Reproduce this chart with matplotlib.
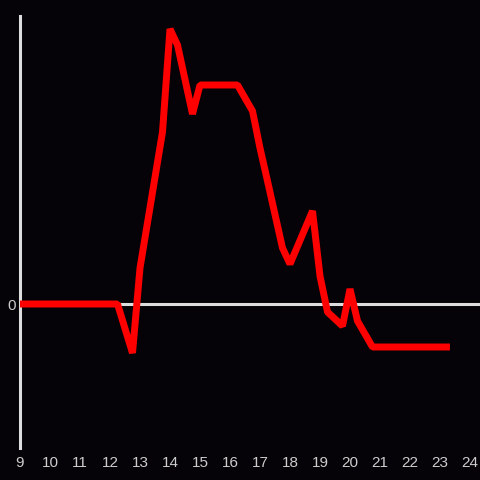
import matplotlib
matplotlib.use("Agg")
import matplotlib.pyplot as plt

# ─── Data ─────────────────────────────────────────────────────────────────────
hours = [9.0, 12.25, 12.75, 13.0, 13.75, 14.0, 14.25, 14.75, 15.0, 16.25,
         16.75, 17.0, 17.25, 17.75, 18.0, 18.75, 19.0, 19.25, 19.75, 20.0,
         20.25, 20.75, 23.33]
values = [0, 0, -49, 36, 172, 275, 259, 190, 219, 219,
          193, 156, 123, 56, 40, 93, 28, -8, -22, 15,
          -17, -43, -43]
xticks = list(range(9, 25))

BG = "#050307"
AXIS_C = "#dddddd"
TEXT_C = "#cccccc"

fig = plt.figure(figsize=(4.8, 4.8), dpi=100, facecolor=BG)
ax = fig.add_axes([20 / 480, 32 / 480, 460 / 480, 432 / 480])
ax.set_facecolor(BG)

ax.axhline(0, color=AXIS_C, lw=2.2, zorder=1)
ax.plot(hours, values, color="#ff0000", lw=5, solid_joinstyle="bevel",
        solid_capstyle="butt", zorder=3)

ax.set_xlim(9, 24 + 10 / 30)
ax.set_ylim(-144, 288)

for s in ["top", "right", "bottom"]:
    ax.spines[s].set_visible(False)
ax.spines["left"].set_color(AXIS_C)
ax.spines["left"].set_linewidth(2.2)

ax.set_xticks(xticks)
ax.set_yticks([0])
ax.tick_params(length=0, colors=TEXT_C, labelsize=11)
ax.tick_params(axis="x", pad=6)
ax.tick_params(axis="y", pad=3)
for lab in ax.get_xticklabels() + ax.get_yticklabels():
    lab.set_fontfamily("Liberation Sans")

fig.savefig("out.png", dpi=100, facecolor=BG)
